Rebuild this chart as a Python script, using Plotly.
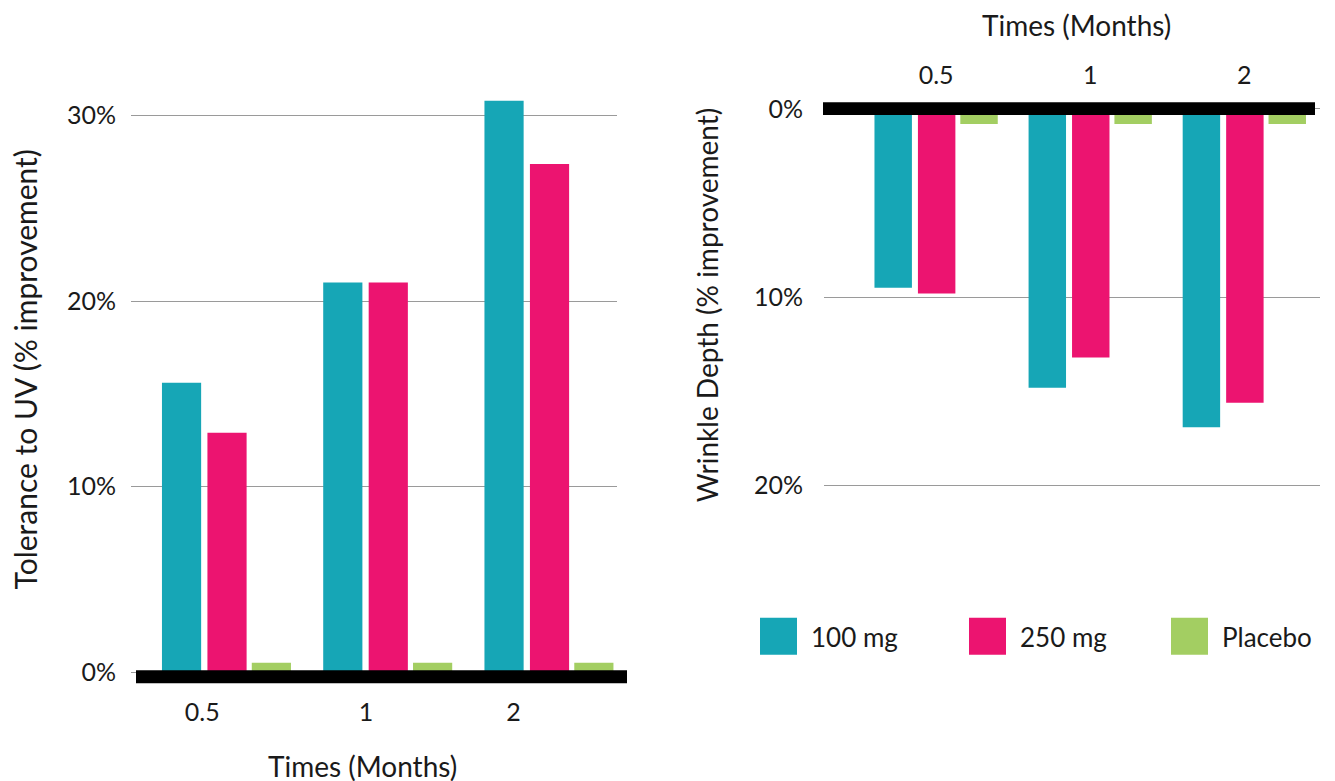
import plotly.graph_objects as go

# ---------------- data ----------------
times = ["0.5", "1", "2"]
series = ["100 mg", "250 mg", "Placebo"]
colors = ["#16A6B6", "#EC1470", "#A3CE62"]

uv_100 = [15.6, 21.0, 30.8]
uv_250 = [12.9, 21.0, 27.4]
uv_placebo = [0.5, 0.5, 0.5]

wrinkle_100 = [9.5, 14.8, 16.9]
wrinkle_250 = [9.8, 13.2, 15.6]
wrinkle_placebo = [0.8, 0.8, 0.8]

uv_ticks = [0, 10, 20, 30]
uv_tick_labels = ["0%", "10%", "20%", "30%"]
wr_ticks = [0, 10, 20]
wr_tick_labels = ["0%", "10%", "20%"]

# ---------------- layout helpers ----------------
W, H = 1335, 781
X_OFFSET = 8          # page margin seen in the capture
Y_OFFSET, Y_SCALE = 17.2, 0.983  # vertical mapping seen in the capture
FONT = "Source Sans Pro, Lato, sans-serif"
TXT = "#1a1a1a"


def px(x):
    return (x - X_OFFSET) / W


def py(y):
    return 1 - ((y - Y_OFFSET) / Y_SCALE) / H


idx = list(range(len(times)))
bar_offsets = [-0.40, -0.118, 0.157]
bar_width = 0.243
left_label_shift = [-0.15, -0.135, -0.22]

fig = go.Figure()

uv_sets = [uv_100, uv_250, uv_placebo]
wr_sets = [wrinkle_100, wrinkle_250, wrinkle_placebo]
for name, col, vals, off in zip(series, colors, uv_sets, bar_offsets):
    fig.add_trace(go.Bar(x=idx, y=vals, name=name, marker=dict(color=col, line=dict(width=0)),
                         offset=off, width=bar_width, xaxis="x", yaxis="y", showlegend=False))
for name, col, vals, off in zip(series, colors, wr_sets, bar_offsets):
    fig.add_trace(go.Bar(x=idx, y=vals, name=name, marker=dict(color=col, line=dict(width=0)),
                         offset=off, width=bar_width, xaxis="x2", yaxis="y2", showlegend=False))

tick_font = dict(family=FONT, size=25, color=TXT)
legend_font = dict(family=FONT, size=26, color=TXT)
xtitle_font = dict(family=FONT, size=28, color=TXT)

shapes = [
    # heavy black baselines
    dict(type="rect", xref="paper", yref="paper", x0=px(136), x1=px(627),
         y0=py(682.3), y1=py(669.3), fillcolor="black", line=dict(width=0), layer="above"),
    dict(type="rect", xref="paper", yref="paper", x0=px(823), x1=px(1315),
         y0=py(115), y1=py(102.3), fillcolor="black", line=dict(width=0), layer="above"),
]

annotations = [
    dict(text="Tolerance to UV (% improvement)", xref="paper", yref="paper",
         x=px(25), y=py(369), textangle=-90, showarrow=False,
         font=dict(family=FONT, size=30, color=TXT), xanchor="center", yanchor="middle"),
    dict(text="Times (Months)", xref="paper", yref="paper",
         x=px(362), y=py(765), showarrow=False, font=xtitle_font,
         xanchor="center", yanchor="middle"),
    dict(text="Wrinkle Depth (% improvement)", xref="paper", yref="paper",
         x=px(707), y=py(305), textangle=-90, showarrow=False,
         font=dict(family=FONT, size=28, color=TXT), xanchor="center", yanchor="middle"),
    dict(text="Times (Months)", xref="paper", yref="paper",
         x=px(1076), y=py(25), showarrow=False, font=xtitle_font,
         xanchor="center", yanchor="middle"),
]

# manual legend with large swatches
legend_x = [760, 969, 1171]
for name, col, lx in zip(series, colors, legend_x):
    shapes.append(dict(type="rect", xref="paper", yref="paper", x0=px(lx), x1=px(lx + 37),
                       y0=py(654), y1=py(617), fillcolor=col, line=dict(width=0)))
    annotations.append(dict(text=name, xref="paper", yref="paper", x=px(lx + 49), y=py(636),
                            showarrow=False, font=legend_font, xanchor="left", yanchor="middle"))

# axis geometry (reference pixels -> value ranges)
L_TOP, L_BOT = 90, 682
R_TOP, R_BOT = 102, 520

fig.update_layout(
    width=W, height=H,
    margin=dict(l=0, r=0, t=0, b=0),
    paper_bgcolor="white", plot_bgcolor="white",
    barmode="overlay", showlegend=False,
    font=dict(family=FONT, color=TXT),
    xaxis=dict(domain=[px(131), px(617)], range=[-0.592, 2.422], anchor="y",
               tickvals=[i + s for i, s in zip(idx, left_label_shift)], ticktext=times,
               showgrid=False, zeroline=False, showline=False, ticks="",
               tickfont=tick_font, ticklabelstandoff=12),
    yaxis=dict(domain=[py(L_BOT), py(L_TOP)], range=[-0.583, 31.39], anchor="x",
               tickvals=uv_ticks, ticktext=uv_tick_labels, showgrid=True,
               gridcolor="#9a9a9a", gridwidth=1, zeroline=False, showline=False,
               ticks="", tickfont=tick_font, ticklabelstandoff=14),
    xaxis2=dict(domain=[px(824), px(1320)], range=[-0.7275, 2.491], anchor="y2", side="top",
                tickvals=idx, ticktext=times, showgrid=False, zeroline=False, showline=False,
                ticks="", tickfont=tick_font, ticklabelstandoff=12),
    yaxis2=dict(domain=[py(R_BOT), py(R_TOP)], range=[21.86, -0.372], anchor="x2",
                tickvals=wr_ticks, ticktext=wr_tick_labels, showgrid=True,
                gridcolor="#9a9a9a", gridwidth=1, zeroline=False, showline=False,
                ticks="", tickfont=tick_font, ticklabelstandoff=20),
    shapes=shapes,
    annotations=annotations,
)

fig.write_html("out.html")
